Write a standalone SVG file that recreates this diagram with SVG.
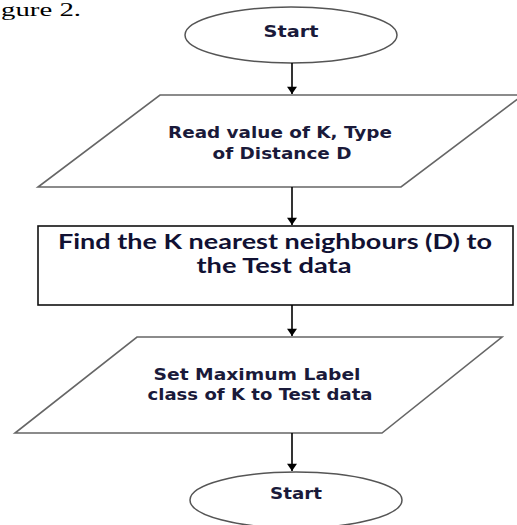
<svg xmlns="http://www.w3.org/2000/svg" width="517" height="525" viewBox="0 0 517 525">
<style>
.term{fill:#fff;stroke:#555;stroke-width:1.5}
.io{fill:#fff;stroke:#666;stroke-width:1.6}
.proc{fill:#fff;stroke:#111;stroke-width:1.6}
.t1{font-family:"DejaVu Sans",Verdana,sans-serif;font-weight:bold;font-size:15px;fill:#1a1a3a;text-anchor:middle}
.t2{font-family:Lato,"Open Sans",sans-serif;font-weight:bold;font-size:20px;fill:#111133;text-anchor:middle}
.cap{font-family:"Liberation Serif",serif;font-size:18px;fill:#000}
.conn{stroke:#000;stroke-width:1.6;fill:none}
</style>
<defs>
<marker id="arr" markerWidth="14" markerHeight="10" refX="10" refY="7" orient="auto" markerUnits="userSpaceOnUse" viewBox="0 0 10 14">
<path d="M0,0 L10,7 L0,14 Z" fill="#000"/>
</marker>
</defs>
<rect width="517" height="525" fill="#fff"/>
<text class="cap" x="1" y="16" textLength="80" lengthAdjust="spacingAndGlyphs">gure 2.</text>
<g id="start">
<ellipse class="term" cx="291" cy="35" rx="106" ry="28"/>
<text class="t1" x="291" y="37" textLength="55" lengthAdjust="spacingAndGlyphs">Start</text>
</g>
<g id="read">
<polygon class="io" points="160,95 523,95 401,187 38,187"/>
<text class="t1" x="280" y="138" textLength="224" lengthAdjust="spacingAndGlyphs">Read value  of K, Type</text>
<text class="t1" x="282" y="159" textLength="139" lengthAdjust="spacingAndGlyphs">of Distance  D</text>
</g>
<g id="find">
<rect class="proc" x="38" y="226" width="475" height="79"/>
<text class="t2" x="275" y="249" textLength="434" lengthAdjust="spacingAndGlyphs">Find the K nearest neighbours (D) to</text>
<text class="t2" x="274" y="273" textLength="155" lengthAdjust="spacingAndGlyphs">the Test data</text>
</g>
<g id="set">
<polygon class="io" points="137,337 502,337 382,433 15,433"/>
<text class="t1" x="257" y="380" textLength="207" lengthAdjust="spacingAndGlyphs">Set Maximum Label</text>
<text class="t1" x="260" y="400" textLength="225" lengthAdjust="spacingAndGlyphs">class of K to Test data</text>
</g>
<g id="end">
<ellipse class="term" cx="296" cy="500" rx="106" ry="28"/>
<text class="t1" x="296" y="499" textLength="52" lengthAdjust="spacingAndGlyphs">Start</text>
</g>
<g id="connectors">
<line class="conn" x1="292" y1="63" x2="292" y2="94" marker-end="url(#arr)"/>
<line class="conn" x1="292" y1="187" x2="292" y2="225" marker-end="url(#arr)"/>
<line class="conn" x1="292" y1="305" x2="292" y2="336" marker-end="url(#arr)"/>
<line class="conn" x1="292" y1="433" x2="292" y2="471" marker-end="url(#arr)"/>
</g>
</svg>
